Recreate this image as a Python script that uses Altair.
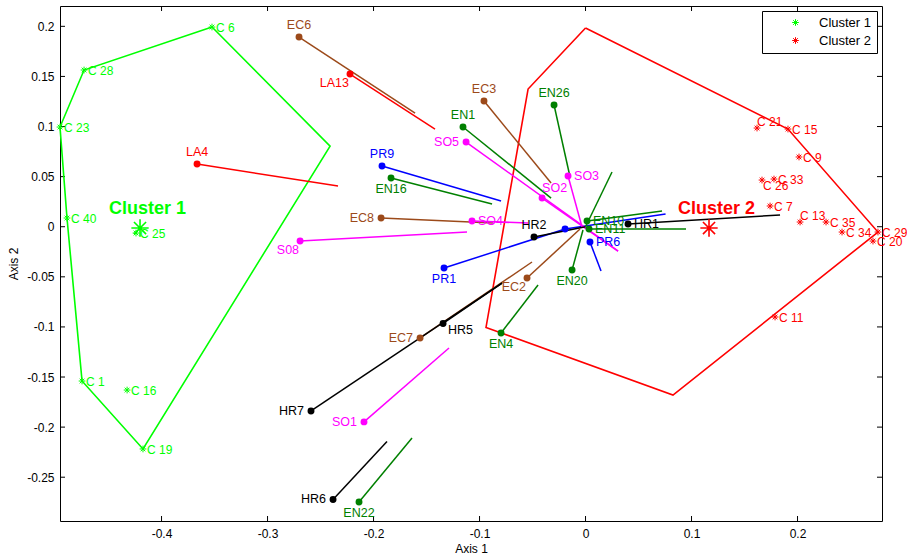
import altair as alt
import pandas as pd

# ---------------- cluster members (Axis 1, Axis 2) ----------------
c1_names = ["C 6", "C 28", "C 23", "C 40", "C 25", "C 1", "C 16", "C 19"]
c1_x = [-0.3524, -0.4731, -0.4958, -0.4892, -0.4241, -0.4750, -0.4325, -0.4175]
c1_y = [0.1993, 0.1564, 0.0995, 0.0087, -0.0063, -0.1540, -0.1630, -0.2218]

c2_names = ["C 21", "C 15", "C 9", "C 33", "C 26", "C 7", "C 13", "C 35",
            "C 34", "C 29", "C 20", "C 11"]
c2_x = [0.1618, 0.1910, 0.2014, 0.1778, 0.1665, 0.1741, 0.2024, 0.2269,
        0.2420, 0.2759, 0.2712, 0.1788]
c2_y = [0.0985, 0.0975, 0.0696, 0.0476, 0.0466, 0.0207, 0.0047, 0.0047,
        -0.0053, -0.0053, -0.0143, -0.0901]
# where each member's label sits relative to its marker
c1_side = ["E"] * len(c1_names)
c2_side = ["N", "E", "E", "E", "S", "E", "N", "E", "E", "E", "E", "E"]

cluster_names = ["Cluster 1", "Cluster 2"]
centroid_x = [-0.4203, 0.1165]
centroid_y = [-0.0013, -0.0013]

# convex hull outlines of the two clusters
hull1_x = [-0.3524, -0.4731, -0.4958, -0.4892, -0.4750, -0.4175, -0.2410, -0.3524]
hull1_y = [0.1993, 0.1564, 0.0995, 0.0087, -0.1540, -0.2218, 0.0805, 0.1993]
hull2_x = [0.0000, 0.1910, 0.2759, 0.0825, -0.0939, -0.0542, 0.0000]
hull2_y = [0.1983, 0.0975, -0.0053, -0.1680, -0.1005, 0.1374, 0.1983]

# ---------------- projected variables: point and segment end ----------------
var_names = ["EC6", "EC3", "EC8", "EC2", "EC7", "LA13", "LA4",
             "EN26", "EN1", "EN16", "EN10", "EN11", "EN20", "EN4", "EN22",
             "PR9", "PR1", "PR6", "PR4",
             "SO5", "SO2", "SO3", "SO4", "S08", "SO1",
             "HR2", "HR1", "HR5", "HR7", "HR6"]
var_x = [-0.2703, -0.0958, -0.1929, -0.0552, -0.1561, -0.2222, -0.3665,
         -0.0297, -0.1156, -0.1835, 0.0014, 0.0033, -0.0127, -0.0797, -0.2137,
         -0.1920, -0.1335, 0.0042, -0.0193,
         -0.1127, -0.0410, -0.0165, -0.1071, -0.2693, -0.2090,
         -0.0486, 0.0401, -0.1344, -0.2590, -0.2382]
var_y = [0.1893, 0.1254, 0.0087, -0.0512, -0.1110, 0.1524, 0.0626,
         0.1215, 0.0995, 0.0486, 0.0057, -0.0023, -0.0432, -0.1060, -0.2747,
         0.0606, -0.0412, -0.0153, -0.0023,
         0.0845, 0.0286, 0.0506, 0.0057, -0.0143, -0.1948,
         -0.0103, 0.0027, -0.0965, -0.1839, -0.2722]
end_x = [-0.1608, -0.0325, -0.0873, -0.0052, -0.0505, -0.1420, -0.2335,
         -0.0146, -0.0325, -0.0882, 0.0722, 0.0948, -0.0024, -0.0448, -0.1637,
         -0.0797, -0.0193, 0.0146, 0.0755,
         0.0307, 0.0307, -0.0033, -0.0542, -0.1118, -0.1288,
         0.0000, 0.1835, -0.0788, -0.0788, -0.1873]
end_y = [0.1135, 0.0436, 0.0037, -0.0023, -0.0352, 0.0975, 0.0406,
         0.0496, 0.0286, 0.0227, 0.0157, -0.0023, -0.0033, -0.0582, -0.2108,
         0.0257, -0.0023, -0.0442, 0.0127,
         -0.0243, -0.0243, -0.0003, 0.0037, -0.0053, -0.1210,
         0.0000, 0.0117, -0.0562, -0.0562, -0.2143]
label_side = ["N", "N", "W", "SW", "W", "SW", "N",
              "N", "N", "S", "E", "E", "S", "S", "S",
              "N", "S", "E", "none",
              "W", "NE", "E", "E", "SW", "W",
              "N", "E", "SE", "W", "W"]

# extra loading radiating from the origin
ray_x = [0.0250]
ray_y = [0.0546]

x_ticks = [-0.4, -0.3, -0.2, -0.1, 0, 0.1, 0.2]
y_ticks = [-0.25, -0.2, -0.15, -0.1, -0.05, 0, 0.05, 0.1, 0.15, 0.2]

# ---------------- styling ----------------
FONT = "Liberation Sans"
W, H = 822, 515
GREEN, RED = "#00FF00", "#FF0000"
group_colors = {"EC": "#9C4A1A", "LA": "#FF0000", "EN": "#008000",
                "PR": "#0000FF", "SO": "#FF00FF", "S0": "#FF00FF",
                "HR": "#000000"}
ASTERISK = "M-1,0L1,0M0,-1L0,1M-0.7,-0.7L0.7,0.7M-0.7,0.7L0.7,-0.7"

xs = alt.Scale(domain=[-0.4958, 0.2797], nice=False, zero=False)
ys = alt.Scale(domain=[-0.2937, 0.2203], nice=False, zero=False)

axis_common = dict(labelExpr="datum.value + ''", ticks=False, domain=False, grid=False,
                   labelFont=FONT, labelFontSize=12, labelColor="black",
                   titleFont=FONT, titleFontSize=12, titleFontWeight="normal",
                   titleColor="black")
AX = alt.Axis(title="Axis 1", values=x_ticks, labelPadding=7, titlePadding=4, **axis_common)
AY = alt.Axis(title="Axis 2", values=y_ticks, labelPadding=6, titlePadding=6, **axis_common)

members = pd.DataFrame({
    "name": c1_names + c2_names,
    "x": c1_x + c2_x,
    "y": c1_y + c2_y,
    "side": c1_side + c2_side,
    "cluster": ["Cluster 1"] * len(c1_names) + ["Cluster 2"] * len(c2_names),
})
centroids = pd.DataFrame({"cluster": cluster_names, "x": centroid_x, "y": centroid_y})
hulls = pd.DataFrame({
    "x": hull1_x + hull2_x,
    "y": hull1_y + hull2_y,
    "cluster": ["Cluster 1"] * len(hull1_x) + ["Cluster 2"] * len(hull2_x),
    "order": list(range(len(hull1_x))) + list(range(len(hull2_x))),
})
variables = pd.DataFrame({
    "name": var_names, "x": var_x, "y": var_y, "x2": end_x, "y2": end_y,
    "side": label_side,
    "color": [group_colors[n[:2]] for n in var_names],
})
rays = pd.DataFrame({"x": [0.0] * len(ray_x), "y": [0.0] * len(ray_y),
                     "x2": ray_x, "y2": ray_y})


def X(f="x"):
    return alt.X(f"{f}:Q", scale=xs, axis=AX)


def Y(f="y"):
    return alt.Y(f"{f}:Q", scale=ys, axis=AY)


def cluster_col(legend=None):
    return alt.Color("cluster:N", scale=alt.Scale(domain=cluster_names, range=[GREEN, RED]),
                     legend=legend)


legend = alt.Legend(title=None, orient="top-right", offset=5,
                    symbolType=ASTERISK, symbolSize=45, symbolStrokeWidth=1,
                    labelFont=FONT, labelFontSize=13, labelColor="black",
                    strokeColor="black", fillColor="white", padding=5,
                    symbolOffset=22, labelOffset=17, rowPadding=4)

# inward tick marks on all four sides
xt = pd.DataFrame({"t": x_ticks})
yt = pd.DataFrame({"t": y_ticks})
tick_style = dict(color="black", strokeWidth=1)
ticks = [
    alt.Chart(xt).mark_rule(**tick_style).encode(
        x=X("t"), y=alt.value(H), y2=alt.value(H - 5)),
    alt.Chart(xt).mark_rule(**tick_style).encode(
        x=X("t"), y=alt.value(0), y2=alt.value(5)),
    alt.Chart(yt).mark_rule(**tick_style).encode(
        y=Y("t"), x=alt.value(0), x2=alt.value(5)),
    alt.Chart(yt).mark_rule(**tick_style).encode(
        y=Y("t"), x=alt.value(W), x2=alt.value(W - 5)),
]

hull_lines = alt.Chart(hulls).mark_line(strokeWidth=1.6).encode(
    x=X(), y=Y(), order="order:Q", detail="cluster:N", color=cluster_col())

segments = alt.Chart(variables).mark_rule(strokeWidth=1.5).encode(
    x=X(), y=Y(), x2="x2:Q", y2="y2:Q", color=alt.Color("color:N", scale=None))
ray_lines = alt.Chart(rays).mark_rule(strokeWidth=1.5, color="#008000").encode(
    x=X(), y=Y(), x2="x2:Q", y2="y2:Q")
dots = alt.Chart(variables).mark_circle(size=48, opacity=1).encode(
    x=X(), y=Y(), color=alt.Color("color:N", scale=None))

placements = {
    "N": dict(align="center", baseline="bottom", dy=-5),
    "S": dict(align="center", baseline="top", dy=5),
    "W": dict(align="right", baseline="middle", dx=-7),
    "E": dict(align="left", baseline="middle", dx=6),
    "SW": dict(align="right", baseline="top", dx=-1, dy=3),
    "NE": dict(align="left", baseline="bottom", dx=0, dy=-3),
    "SE": dict(align="left", baseline="top", dx=5, dy=1),
}
var_labels = [
    alt.Chart(variables).transform_filter(alt.datum.side == side)
    .mark_text(font=FONT, fontSize=12.5, **opts)
    .encode(x=X(), y=Y(), text="name:N", color=alt.Color("color:N", scale=None))
    for side, opts in placements.items()
]

member_pts = alt.Chart(members).mark_point(
    shape=ASTERISK, filled=False, size=45, strokeWidth=1, opacity=1
).encode(x=X(), y=Y(), color=cluster_col(legend))

member_place = {
    "E": dict(dx=4, dy=1),
    "N": dict(dx=0, dy=-6),
    "S": dict(dx=1, dy=6),
}
member_labels = [
    alt.Chart(members).transform_filter(alt.datum.side == side)
    .mark_text(font=FONT, fontSize=12, align="left", baseline="middle", **opts)
    .encode(x=X(), y=Y(), text="name:N", color=cluster_col())
    for side, opts in member_place.items()
]

centroid_pts = alt.Chart(centroids).mark_point(
    shape=ASTERISK, filled=False, size=300, strokeWidth=1.6, opacity=1
).encode(x=X(), y=Y(), color=cluster_col())
centroid_labels = alt.Chart(centroids).mark_text(
    font=FONT, fontSize=18, fontWeight="bold", align="left", baseline="middle",
    dx=-31, dy=-19
).encode(x=X(), y=Y(), text="cluster:N", color=cluster_col())

chart = alt.layer(
    *ticks, hull_lines, segments, ray_lines, dots, *var_labels,
    member_pts, *member_labels, centroid_pts, centroid_labels,
).resolve_scale(color="independent").properties(
    width=W, height=H,
    autosize=alt.AutoSizeParams(type="none"),
    padding={"left": 60, "top": 6, "right": 25, "bottom": 38},
    background="white",
).configure_view(stroke="black", strokeWidth=1)

chart.save("out.html", embed_options={"renderer": "svg", "actions": False})
